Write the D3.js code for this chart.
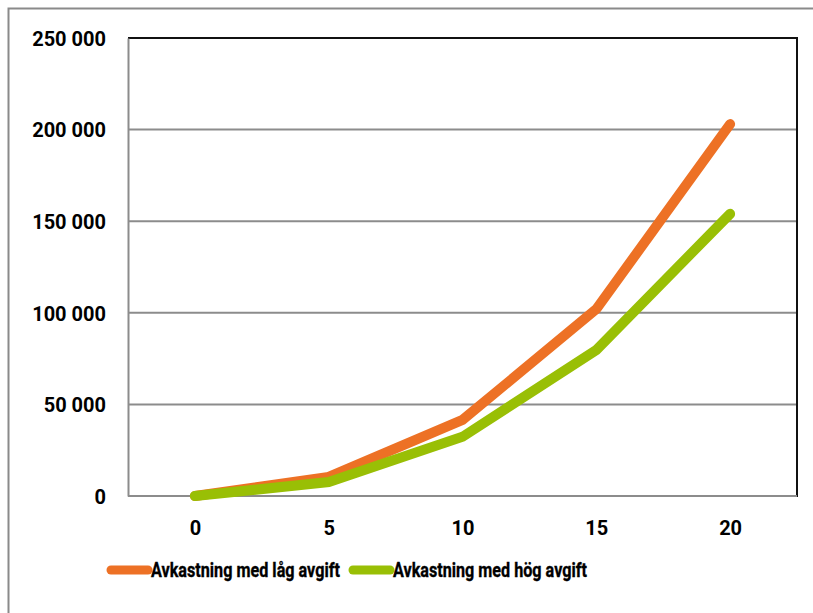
<!DOCTYPE html>
<html>
<head>
<meta charset="utf-8">
<script src="https://cdn.jsdelivr.net/npm/d3@7"></script>
<style>
  html, body { margin: 0; padding: 0; background: #fff; }
  svg { display: block; }
  text { font-family: Roboto, "Liberation Sans", sans-serif; font-weight: 700; fill: #000; }
</style>
</head>
<body>
<svg id="chart" width="813" height="613"></svg>
<script>
// Years on the x axis
const years = ["0", "5", "10", "15", "20"];
// Accumulated return, low fee
const lowFee = [0, 10400, 41500, 102000, 203000];
// Accumulated return, high fee
const highFee = [0, 7600, 32300, 79700, 154000];
// Y axis tick values
const yTicks = [0, 50000, 100000, 150000, 200000, 250000];
const seriesNames = ["Avkastning med låg avgift", "Avkastning med hög avgift"];
const seriesColors = ["#ED7125", "#99BF05"];

const svg = d3.select("#chart");
const margin = { left: 128, right: 16, top: 38, bottom: 117 };
const W = 813, H = 613;
const labelFont = "Roboto, 'Liberation Sans', sans-serif";

// Outer frame (left and top edges visible)
svg.append("rect")
  .attr("x", 8.5).attr("y", 8.5)
  .attr("width", 830).attr("height", 630)
  .attr("fill", "none").attr("stroke", "#8a8a8a").attr("stroke-width", 2);

const x = d3.scalePoint().domain(years)
  .range([margin.left, W - margin.right]).padding(0.5);
const y = d3.scaleLinear().domain([0, 250000])
  .range([H - margin.bottom, margin.top]);

const fmt = v => d3.format(",")(v).replace(/,/g, " ");

// Gridlines
svg.append("g").selectAll("line")
  .data(yTicks.filter(d => d > 0 && d < 250000))
  .join("line")
  .attr("x1", margin.left).attr("x2", W - margin.right)
  .attr("y1", d => y(d)).attr("y2", d => y(d))
  .attr("stroke", "#8c8c8c").attr("stroke-width", 2);

// Plot frame: top and right dark, left and bottom gray axes
svg.append("line")
  .attr("x1", margin.left).attr("x2", W - margin.right)
  .attr("y1", y(250000)).attr("y2", y(250000))
  .attr("stroke", "#111").attr("stroke-width", 2);
svg.append("line")
  .attr("x1", W - margin.right).attr("x2", W - margin.right)
  .attr("y1", y(250000) - 1).attr("y2", y(0) + 1)
  .attr("stroke", "#111").attr("stroke-width", 2);

// Y axis
const yAxis = svg.append("g")
  .attr("transform", `translate(${margin.left},0)`)
  .call(d3.axisLeft(y).tickValues(yTicks).tickFormat(fmt).tickSize(0).tickPadding(22));
yAxis.select(".domain").attr("stroke", "#8c8c8c").attr("stroke-width", 2);
yAxis.selectAll("text")
  .attr("font-size", 20).attr("font-family", labelFont).attr("font-weight", 700).attr("fill", "#000")
  .attr("dy", "0.36em");

// X axis
const xAxis = svg.append("g")
  .attr("transform", `translate(0,${y(0)})`)
  .call(d3.axisBottom(x).tickSize(0));
xAxis.select(".domain").attr("stroke", "#8c8c8c").attr("stroke-width", 2)
  .attr("d", `M${margin.left},0H${W - margin.right}`);
xAxis.selectAll("text")
  .attr("font-size", 20).attr("font-family", labelFont).attr("font-weight", 700).attr("fill", "#000")
  .attr("y", 32).attr("dy", "0.36em");

// Lines
const line = d3.line().x((d, i) => x(years[i])).y(d => y(d));
[lowFee, highFee].forEach((s, k) => {
  svg.append("path")
    .attr("d", line(s))
    .attr("fill", "none")
    .attr("stroke", seriesColors[k])
    .attr("stroke-width", 10)
    .attr("stroke-linecap", "round")
    .attr("stroke-linejoin", "miter");
});

// Legend
const legendY = 570;
const legendItems = [
  { x0: 111, x1: 148, tx: 151, w: 189 },
  { x0: 353, x1: 390, tx: 393, w: 194 }
];
legendItems.forEach((it, k) => {
  svg.append("line")
    .attr("x1", it.x0).attr("x2", it.x1)
    .attr("y1", legendY).attr("y2", legendY)
    .attr("stroke", seriesColors[k]).attr("stroke-width", 9)
    .attr("stroke-linecap", "round");
  svg.append("text")
    .attr("x", it.tx).attr("y", legendY + 7)
    .attr("font-size", 20)
    .attr("stroke", "#000").attr("stroke-width", 0.35)
    .attr("textLength", it.w).attr("lengthAdjust", "spacingAndGlyphs")
    .text(seriesNames[k]);
});
</script>
</body>
</html>
